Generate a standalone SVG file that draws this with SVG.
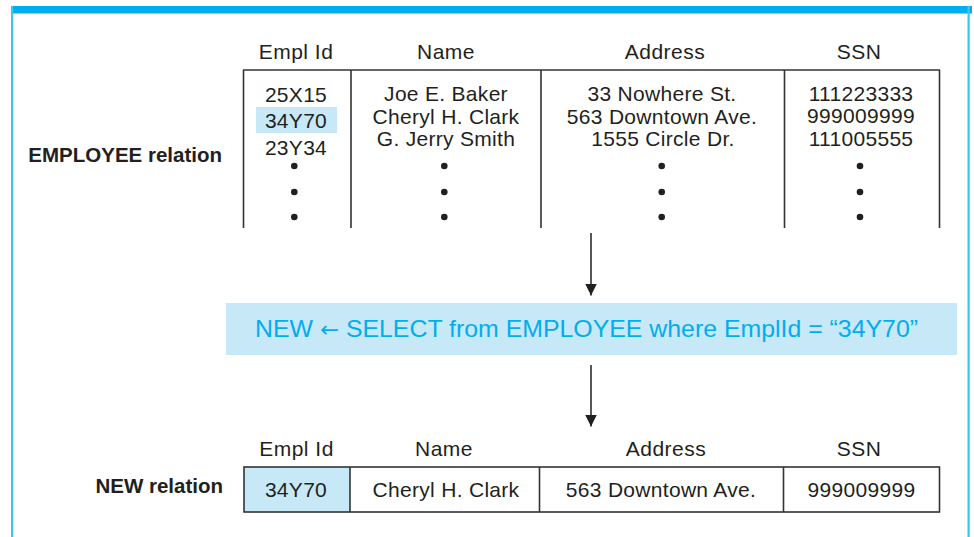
<svg xmlns="http://www.w3.org/2000/svg" width="974" height="537" viewBox="0 0 974 537">
  <style>
    .t { font-family: "Liberation Sans", Arial, Helvetica, sans-serif; font-size: 21px; fill: #231f20; letter-spacing: 0.3px; }
    .h { font-family: "Liberation Sans", Arial, Helvetica, sans-serif; font-size: 21px; fill: #231f20; letter-spacing: 0.5px; text-anchor: middle; }
    .c { text-anchor: middle; }
    .lbl { font-family: "Liberation Sans", Arial, Helvetica, sans-serif; font-size: 20.5px; font-weight: bold; fill: #231f20; text-anchor: end; }
    .q { font-family: "Liberation Sans", Arial, Helvetica, sans-serif; font-size: 24px; fill: #00aeef; }
    .arr { font-family: "DejaVu Sans", sans-serif; font-size: 22px; }
    .ln { stroke: #333333; stroke-width: 1.6; fill: none; }
    .hl { fill: #c6e8f7; }
    .dot { fill: #231f20; }
    .conn { stroke: #231f20; stroke-width: 1.5; fill: none; marker-end: url(#ah); }
  </style>
  <defs>
    <marker id="ah" markerUnits="userSpaceOnUse" markerWidth="14" markerHeight="12" viewBox="0 0 14 12" refX="12" refY="6" orient="auto">
      <path d="M0,0 L12,6 L0,12 Z" fill="#231f20"/>
    </marker>
  </defs>
  <rect width="974" height="537" fill="#ffffff"/>

  <g id="frame">
    <rect x="11" y="6" width="961" height="7.5" fill="#00aeef"/>
    <rect x="11" y="6" width="2.2" height="531" fill="#3cc3f0"/>
    <rect x="967.5" y="6" width="2.2" height="531" fill="#3cc3f0"/>
  </g>

  <g id="employee-relation">
    <text class="lbl" x="222" y="162">EMPLOYEE relation</text>
    <text class="h" x="296" y="59">Empl Id</text>
    <text class="h" x="446" y="59">Name</text>
    <text class="h" x="665" y="59">Address</text>
    <text class="h" x="859" y="59">SSN</text>
    <rect class="hl" x="256" y="107" width="81" height="26"/>
    <line class="ln" x1="243" y1="70" x2="940" y2="70"/>
    <line class="ln" x1="243.5" y1="70" x2="243.5" y2="228"/>
    <line class="ln" x1="351" y1="70" x2="351" y2="228"/>
    <line class="ln" x1="541" y1="70" x2="541" y2="228"/>
    <line class="ln" x1="784.5" y1="70" x2="784.5" y2="228"/>
    <line class="ln" x1="939.5" y1="70" x2="939.5" y2="228"/>
    <text class="t c" x="296" y="101.5">25X15</text>
    <text class="t c" x="296" y="128.3">34Y70</text>
    <text class="t c" x="296" y="155">23Y34</text>
    <text class="t c" x="446" y="100.7">Joe E. Baker</text>
    <text class="t c" x="446" y="123.7">Cheryl H. Clark</text>
    <text class="t c" x="446" y="146.3">G. Jerry Smith</text>
    <text class="t c" x="662" y="100.7">33 Nowhere St.</text>
    <text class="t c" x="662" y="123.5">563 Downtown Ave.</text>
    <text class="t c" x="663" y="146">1555 Circle Dr.</text>
    <text class="t c" x="861" y="100.5">111223333</text>
    <text class="t c" x="861" y="123.3">999009999</text>
    <text class="t c" x="861" y="146">111005555</text>
    <circle class="dot" cx="294.3" cy="166" r="3.3"/>
    <circle class="dot" cx="294.3" cy="192" r="3.3"/>
    <circle class="dot" cx="294.3" cy="217" r="3.3"/>
    <circle class="dot" cx="444.3" cy="166" r="3.3"/>
    <circle class="dot" cx="444.3" cy="192" r="3.3"/>
    <circle class="dot" cx="444.3" cy="217" r="3.3"/>
    <circle class="dot" cx="661.7" cy="166" r="3.3"/>
    <circle class="dot" cx="661.7" cy="192" r="3.3"/>
    <circle class="dot" cx="661.7" cy="217" r="3.3"/>
    <circle class="dot" cx="860" cy="166" r="3.3"/>
    <circle class="dot" cx="860" cy="192" r="3.3"/>
    <circle class="dot" cx="860" cy="217" r="3.3"/>
  </g>

  <g id="select-operation">
    <rect class="hl" x="226" y="303" width="731" height="52"/>
    <text class="q" x="255" y="337.3" textLength="663" lengthAdjust="spacingAndGlyphs">NEW <tspan class="arr">←</tspan> SELECT from EMPLOYEE where EmplId = “34Y70”</text>
  </g>

  <g id="new-relation">
    <text class="lbl" x="223" y="492.7">NEW relation</text>
    <text class="h" x="296.5" y="455.7">Empl Id</text>
    <text class="h" x="444" y="455.7">Name</text>
    <text class="h" x="666" y="455.7">Address</text>
    <text class="h" x="859" y="455.7">SSN</text>
    <rect class="hl" x="244" y="467" width="106" height="45"/>
    <rect class="ln" x="244" y="467" width="695.5" height="45"/>
    <line class="ln" x1="350" y1="467" x2="350" y2="512"/>
    <line class="ln" x1="539.5" y1="467" x2="539.5" y2="512"/>
    <line class="ln" x1="783.5" y1="467" x2="783.5" y2="512"/>
    <text class="t c" x="296" y="496.7">34Y70</text>
    <text class="t c" x="446" y="496.7">Cheryl H. Clark</text>
    <text class="t c" x="661" y="496.7">563 Downtown Ave.</text>
    <text class="t c" x="861.5" y="496.7">999009999</text>
  </g>

  <g id="connectors">
    <line class="conn" x1="591" y1="233" x2="591" y2="295.5"/>
    <line class="conn" x1="591" y1="365" x2="591" y2="426.5"/>
  </g>
</svg>
